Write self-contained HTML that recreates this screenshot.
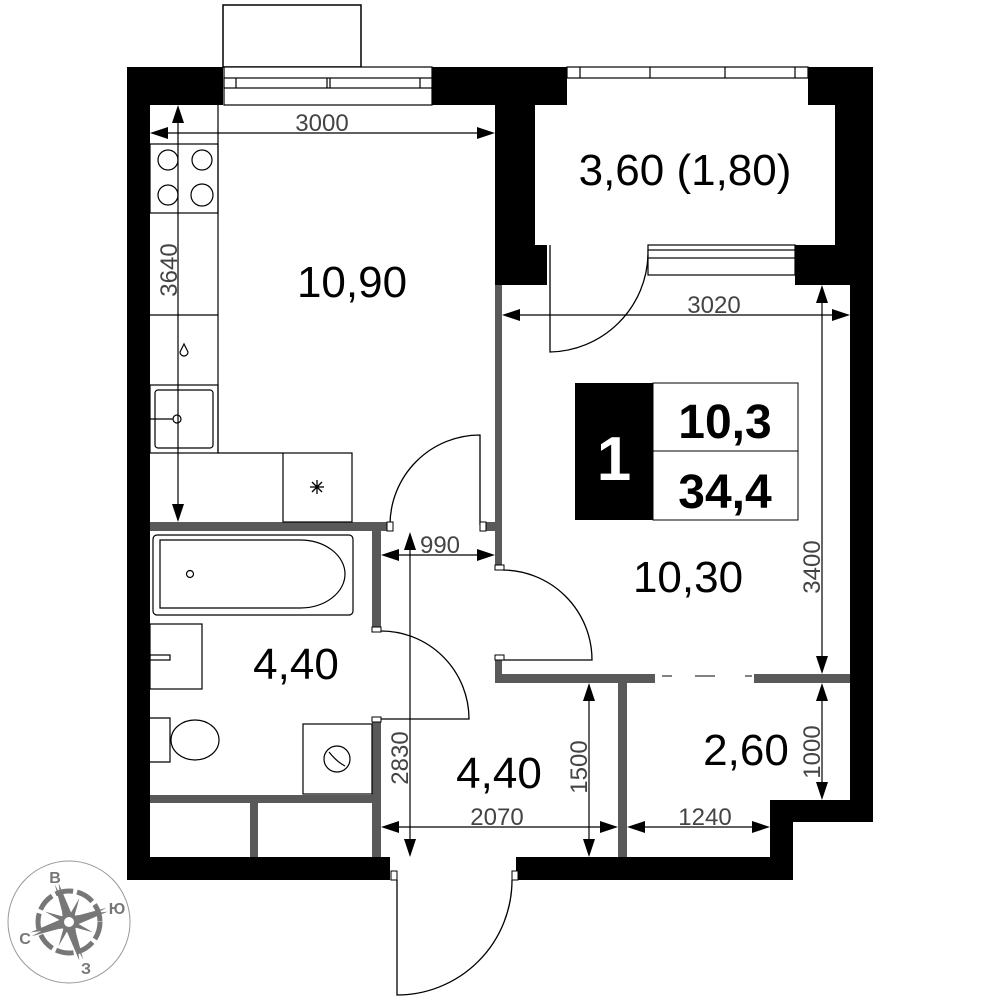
<!DOCTYPE html>
<html><head><meta charset="utf-8"><style>
html,body{margin:0;padding:0;background:#fff}
svg{display:block}
text{font-family:"Liberation Sans","DejaVu Sans",sans-serif}
</style></head><body>
<svg width="1000" height="1000" viewBox="0 0 1000 1000" xmlns="http://www.w3.org/2000/svg">
<rect x="223" y="5" width="138" height="62" fill="#fff" stroke="#000" stroke-width="1.5"/>
<g fill="#000">
<rect x="127" y="67" width="96" height="38"/>
<rect x="432" y="67" width="135" height="38"/>
<rect x="127" y="67" width="23" height="813"/>
<rect x="495" y="67" width="40" height="178"/>
<rect x="495" y="245" width="52" height="40"/>
<rect x="808" y="67" width="65" height="38"/>
<rect x="835" y="67" width="38" height="218"/>
<rect x="795" y="245" width="78" height="40"/>
<rect x="850" y="285" width="23" height="537"/>
<rect x="770" y="800" width="103" height="22"/>
<rect x="770" y="800" width="23" height="80"/>
<rect x="516" y="857" width="277" height="23"/>
<rect x="127" y="857" width="263" height="23"/>
</g>
<g fill="#fff" stroke="#000" stroke-width="1.2">
<rect x="224" y="67" width="208" height="38"/>
<rect x="224" y="78" width="208" height="10"/>
<line x1="236" y1="78" x2="236" y2="88"/><line x1="420" y1="78" x2="420" y2="88"/>
<line x1="327" y1="78" x2="327" y2="88"/><line x1="330" y1="78" x2="330" y2="88"/>
<rect x="567" y="67" width="241" height="11"/>
<line x1="580" y1="67" x2="580" y2="78"/><line x1="650" y1="67" x2="650" y2="78"/><line x1="725" y1="67" x2="725" y2="78"/><line x1="795" y1="67" x2="795" y2="78"/>
<rect x="648" y="245" width="147" height="30"/>
<rect x="648" y="250" width="147" height="8"/>
</g>
<g fill="#595959">
<rect x="150" y="522" width="240" height="9"/>
<rect x="480" y="522" width="15" height="9"/>
<rect x="372" y="531" width="9" height="100"/>
<rect x="372" y="720" width="9" height="137"/>
<rect x="495" y="285" width="7" height="282"/>
<rect x="495" y="658" width="7" height="25"/>
<rect x="495" y="674" width="160" height="9"/>
<rect x="754" y="674" width="96" height="9"/>
<rect x="618" y="683" width="9" height="174"/>
<rect x="150" y="795" width="230" height="8"/>
<rect x="250" y="803" width="8" height="54"/>
</g>
<g stroke="#595959" stroke-width="1.5"><line x1="662" y1="676" x2="672" y2="676"/><line x1="695" y1="676" x2="715" y2="676"/><line x1="745" y1="676" x2="752" y2="676"/></g>
<g fill="none" stroke="#000" stroke-width="1.3">
<path d="M480 525 V435 A90 90 0 0 0 390 525"/>
<path d="M502 570 A90 90 0 0 1 592 660 H502"/>
<path d="M381 631 A88 88 0 0 1 469 719 H381"/>
<path d="M550 245 V352 A100 100 0 0 0 648 255"/>
<path d="M397 880 V995 A115 115 0 0 0 512 880"/>
</g>
<g fill="#fff" stroke="#000" stroke-width="1">
<rect x="387" y="522" width="6" height="9"/><rect x="480" y="522" width="6" height="9"/>
<rect x="495" y="565" width="9" height="5"/><rect x="495" y="655" width="9" height="5"/>
<rect x="372" y="627" width="9" height="5"/><rect x="372" y="717" width="9" height="5"/>
<rect x="391" y="871" width="6" height="9"/><rect x="512" y="871" width="6" height="9"/>
</g>
<g fill="none" stroke="#000" stroke-width="1.2">
<line x1="218" y1="105" x2="218" y2="453"/>
<rect x="150" y="144" width="68" height="69"/>
<line x1="150" y1="315" x2="218" y2="315"/>
<rect x="150" y="385" width="68" height="68"/>
<rect x="155" y="390" width="58" height="58" rx="3"/>
<line x1="218" y1="453" x2="283" y2="453"/>
<rect x="283" y="453" width="69" height="69"/>
<circle cx="168" cy="160" r="10"/><circle cx="202" cy="160" r="10"/>
<circle cx="168" cy="195" r="10"/><circle cx="202" cy="195" r="11"/>
<circle cx="177" cy="419" r="4"/>
<line x1="150" y1="419" x2="173" y2="419"/>
<path d="M184 344 L180 352 A4 4 0 0 0 188 352 Z"/>
<rect x="153" y="535" width="200" height="80" rx="4"/>
<path d="M160 540 H300 A45 34 0 0 1 300 608 H160 Z"/>
<circle cx="190" cy="574" r="3.5"/>
<rect x="150" y="624" width="52" height="65"/>
<rect x="150" y="655" width="20" height="5"/>
<path d="M150 718 H170 V762 H150"/><ellipse cx="195" cy="740" rx="24" ry="20"/>
<rect x="303" y="724" width="69" height="70"/>
<circle cx="337" cy="759" r="13"/>
<path d="M329 752 Q337 762 345 766"/>
</g>
<g stroke="#000" stroke-width="1.3"><line x1="310" y1="487" x2="324" y2="487"/><line x1="317" y1="480" x2="317" y2="494"/><line x1="312" y1="482" x2="322" y2="492"/><line x1="322" y1="482" x2="312" y2="492"/></g>
<g stroke="#000" stroke-width="1.2" fill="none">
<line x1="155" y1="133" x2="490" y2="133"/>
<line x1="178" y1="110" x2="178" y2="518"/>
<line x1="505" y1="315" x2="845" y2="315"/>
<line x1="822" y1="290" x2="822" y2="670"/>
<line x1="822" y1="688" x2="822" y2="795"/>
<line x1="385" y1="555" x2="492" y2="555"/>
<line x1="410" y1="535" x2="410" y2="855"/>
<line x1="385" y1="827" x2="614" y2="827"/>
<line x1="589" y1="688" x2="589" y2="855"/>
<line x1="632" y1="827" x2="767" y2="827"/>
</g>
<g fill="#000">
<path d="M150 133 l18 -6 v12z"/><path d="M495 133 l-18 -6 v12z"/>
<path d="M178 105 l-6 18 h12z"/><path d="M178 522 l-6 -18 h12z"/>
<path d="M502 315 l18 -6 v12z"/><path d="M850 315 l-18 -6 v12z"/>
<path d="M822 285 l-6 18 h12z"/><path d="M822 674 l-6 -18 h12z"/>
<path d="M822 683 l-6 18 h12z"/><path d="M822 800 l-6 -18 h12z"/>
<path d="M381 555 l18 -6 v12z"/><path d="M495 555 l-18 -6 v12z"/>
<path d="M410 532 l-6 18 h12z"/><path d="M410 857 l-6 -18 h12z"/>
<path d="M381 827 l18 -6 v12z"/><path d="M618 827 l-18 -6 v12z"/>
<path d="M589 683 l-6 18 h12z"/><path d="M589 857 l-6 -18 h12z"/>
<path d="M627 827 l18 -6 v12z"/><path d="M770 827 l-18 -6 v12z"/>
</g>
<g fill="#444" font-size="24">
<text x="322" y="131" text-anchor="middle">3000</text>
<text x="714" y="313" text-anchor="middle">3020</text>
<text x="440" y="553" text-anchor="middle">990</text>
<text x="497" y="825" text-anchor="middle">2070</text>
<text x="705" y="825" text-anchor="middle">1240</text>
<text transform="translate(177,270) rotate(-90)" text-anchor="middle">3640</text>
<text transform="translate(820,567) rotate(-90)" text-anchor="middle">3400</text>
<text transform="translate(820,752) rotate(-90)" text-anchor="middle">1000</text>
<text transform="translate(408,758) rotate(-90)" text-anchor="middle">2830</text>
<text transform="translate(587,767) rotate(-90)" text-anchor="middle">1500</text>
</g>
<g fill="#000" font-size="44" text-anchor="middle">
<text x="352" y="297">10,90</text>
<text x="685" y="185">3,60 (1,80)</text>
<text x="688" y="592">10,30</text>
<text x="296" y="679">4,40</text>
<text x="499" y="788">4,40</text>
<text x="746" y="765">2,60</text>
</g>
<rect x="575" y="383" width="78" height="137" fill="#000"/>
<rect x="653" y="383" width="145" height="68" fill="#fff" stroke="#000" stroke-width="1"/>
<rect x="653" y="451" width="145" height="69" fill="#fff" stroke="#000" stroke-width="1"/>
<text x="614" y="480" font-size="62" font-weight="bold" fill="#fff" text-anchor="middle">1</text>
<text x="725" y="438" font-size="48" font-weight="bold" text-anchor="middle">10,3</text>
<text x="725" y="508" font-size="48" font-weight="bold" text-anchor="middle">34,4</text>
<g transform="translate(69,922)">
<circle r="61" fill="none" stroke="#999" stroke-width="1"/>
<circle r="31" fill="none" stroke="#777" stroke-width="5" stroke-dasharray="18 4"/>
<g fill="#777" transform="rotate(-15)">
<path d="M0 -40 L5 -5 L0 -10 L-5 -5Z"/><path d="M0 40 L5 5 L0 10 L-5 5Z"/>
<path d="M40 0 L5 5 L10 0 L5 -5Z"/><path d="M-40 0 L-5 5 L-10 0 L-5 -5Z"/>
<path d="M-4 -40 L4 -4 L40 -4 L4 4 L4 40 L-4 4 L-40 4 L-4 -4Z"/>
<g transform="rotate(45)"><path d="M-3 -26 L3 -3 L26 -3 L3 3 L3 26 L-3 3 L-26 3 L-3 -3Z"/></g>
</g>
<circle r="7" fill="#fff" stroke="#777" stroke-width="4"/>
<g fill="#777" font-size="16" font-weight="bold" text-anchor="middle">
<text x="-14" y="-39">В</text><text x="48" y="-8">Ю</text><text x="-44" y="22">С</text><text x="17" y="52">З</text>
</g>
</g>
</svg>
</body></html>
